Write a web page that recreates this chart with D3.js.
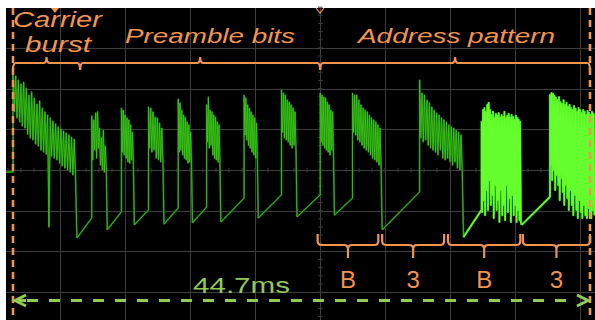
<!DOCTYPE html>
<html>
<head>
<meta charset="utf-8">
<script src="https://cdn.jsdelivr.net/npm/d3@7"></script>
<style>
  html, body { margin: 0; padding: 0; background: #fff; }
  svg { display: block; }
</style>
</head>
<body>
<svg id="scope" width="595" height="320"></svg>
<script>
// burst timing in ms from the carrier start (left cursor)
const burstStart = [0, 6.1, 8.4, 10.5, 12.8, 15.0, 17.9, 20.8, 23.8, 26.3, 31.5, 36.3, 41.6]
const burstEnd   = [4.95, 7.3, 9.4, 11.7, 13.9, 16.1, 19.0, 22.0, 24.9, 28.6, 34.9, 39.4, 45.1]

// level (in divisions) the trace drops to after each burst, and where the ramp ends
const dropLevel = [-1.67, -1.47, -1.35, -1.33, -1.30, -1.28, -1.18, -1.15, -1.11, -1.47, -1.65, -1.35]
const rampEnd   = [-1.18, -1.03, -0.98, -0.93, -0.91, -0.69, -0.61, -0.61, -0.69, -0.54, -0.98, -0.66]

// trace level before the trigger
const idleLevel = -0.05
const idleStart = -0.62

// spike peaks and troughs of every burst, in divisions
const burstTops = [
  [2.33, 2.31, 2.21, 2.11, 2.16, 2.01, 1.84, 1.92, 1.77, 1.62, 1.70, 1.52, 1.43, 1.35, 1.28, 1.20, 1.13, 1.06, 1.01, 0.96, 0.91, 0.86, 0.81, 0.76],
  [1.33, 1.23, 1.40, 1.43, 1.03, 0.79, 0.98, 0.59],
  [1.52, 1.47, 1.35, 1.28, 1.23, 1.11, 0.93],
  [1.55, 1.52, 1.43, 1.30, 1.28, 1.15, 1.03],
  [1.74, 1.65, 1.47, 1.35, 1.30, 1.18, 1.11, 0.93],
  [1.60, 1.79, 1.47, 1.43, 1.35, 1.30, 1.18, 1.11],
  [1.84, 1.77, 1.60, 1.52, 1.43, 1.35, 1.28, 1.15],
  [1.97, 1.89, 1.84, 1.72, 1.67, 1.60, 1.52, 1.43],
  [1.89, 1.84, 1.79, 1.77, 1.67, 1.60, 1.47, 1.43],
  [1.89, 1.84, 1.84, 1.72, 1.60, 1.52, 1.47, 1.43, 1.35, 1.28, 1.23, 1.18, 1.11, 1.03],
  [2.21, 1.89, 1.84, 1.72, 1.65, 1.55, 1.47, 1.40, 1.35, 1.28, 1.23, 1.18, 1.11, 1.06, 1.03, 0.98, 0.93, 0.86],
  [1.18, 1.47, 1.52, 1.43, 1.60, 1.65, 1.47, 1.35, 1.43, 1.28, 1.38, 1.33, 1.40, 1.28, 1.35, 1.30, 1.43, 1.28, 1.33, 1.38, 1.28, 1.35, 1.30, 1.23, 1.33, 1.28, 1.23, 1.18],
  [1.84, 1.89, 1.87, 1.82, 1.77, 1.72, 1.79, 1.67, 1.62, 1.72, 1.60, 1.65, 1.55, 1.60, 1.52, 1.47, 1.57, 1.50, 1.43, 1.52, 1.47, 1.40, 1.47, 1.43, 1.35, 1.45, 1.40, 1.35, 1.43, 1.38]
]
const burstTroughs = [
  [1.43, 1.28, 1.18, 1.08, 1.03, 0.88, 0.79, 0.74, 0.64, 0.59, 0.49, 0.44, 0.39, -1.40, 0.34, 0.29, 0.25, 0.17, 0.10, 0.05, 0.00, -0.05, -0.12, -0.20],
  [0.25, 0.49, 0.29, 0.54, 0.12, 0.00, -0.05, 0.05],
  [0.44, 0.37, 0.29, 0.20, 0.17, 0.25, 0.12],
  [0.54, 0.44, 0.49, 0.29, 0.25, 0.20, 0.20],
  [0.44, 0.49, 0.37, 0.29, 0.25, 0.17, 0.20, 0.12],
  [0.69, 0.54, 0.61, 0.37, 0.29, 0.25, 0.20, 0.20],
  [0.86, 0.74, 0.61, 0.54, 0.44, 0.37, 0.29, 0.29],
  [0.93, 0.79, 0.74, 0.69, 0.61, 0.54, 0.61, 0.49],
  [0.69, 0.61, 0.54, 0.49, 0.44, 0.37, 0.49, 0.37],
  [0.93, 0.86, 0.74, 0.69, 0.61, 0.54, 0.49, 0.44, 0.37, 0.29, 0.25, 0.20, 0.12, 0.05],
  [0.79, 0.69, 0.74, 0.61, 0.54, 0.49, 0.44, 0.37, 0.49, 0.29, 0.25, 0.29, 0.20, 0.12, 0.20, 0.05, 0.00, -0.05],
  [-1.03, -0.74, -1.11, -0.49, -0.98, -0.25, -0.86, -0.61, -1.18, -0.37, -0.98, -0.74, -1.28, -0.49, -1.11, -0.86, -1.23, -0.37, -1.03, -0.69, -1.28, -0.61, -1.11, -0.86, -1.28, -0.98, -1.23, -1.28],
  [0.12, -0.25, 0.00, -0.49, -0.12, -0.37, -0.74, -0.20, -0.54, -0.86, -0.37, -0.69, -0.98, -0.49, -0.86, -1.11, -0.61, -0.98, -1.18, -0.74, -1.03, -1.18, -0.86, -1.11, -1.18, -0.93, -1.13, -1.18, -0.98, -1.11]
]

// annotation spans (ms)
const frameEdges = [0, 5.2, 23.8, 44.7]
const frameLabels = [["Carrier", "burst"], ["Preamble bits"], ["Address pattern"]]
const nibbleStart = [23.6, 28.6, 33.7, 39.5]
const nibbleEnd   = [28.3, 33.4, 39.3, 44.7]
const nibbleLabels = ["B", "3", "B", "3"]
const spanMs = 44.7
const spanLabel = "44.7ms"

const orange = "#f2944c"
const lime = "#8fcb55"
const brightBursts = [11, 12]

const svg = d3.select("#scope")

// screen: 10 x 8 divisions, partly cropped by the window
const xDiv = d3.scaleLinear().domain([-5, 5]).range([-5, 645])
const yDiv = d3.scaleLinear().domain([-4, 4]).range([332.8, 7.2])
const x = d3.scaleLinear().domain([0, spanMs]).range([13, 590])
const y = yDiv

svg.append("rect").attr("x", 6).attr("y", 8).attr("width", 589).attr("height", 312).attr("fill", "#000")

let grid = svg.append("g").attr("stroke", "#3d3d3d").attr("stroke-width", 1)
grid.selectAll("line.v").data(d3.range(-4, 5)).enter().append("line")
    .attr("x1", d => Math.round(xDiv(d)) + 0.5).attr("x2", d => Math.round(xDiv(d)) + 0.5)
    .attr("y1", 8).attr("y2", 320)
grid.selectAll("line.h").data(d3.range(-3, 4)).enter().append("line")
    .attr("y1", d => Math.round(y(d)) + 0.5).attr("y2", d => Math.round(y(d)) + 0.5)
    .attr("x1", 6).attr("x2", 595)

// minor ticks on the centre axes
grid.selectAll("line.tx").data(d3.range(-25, 26).map(d => d / 5)).enter().append("line")
    .attr("x1", d => xDiv(d)).attr("x2", d => xDiv(d))
    .attr("y1", y(0) - 2).attr("y2", y(0) + 2.5)
grid.selectAll("line.ty").data(d3.range(-20, 21).map(d => d / 5)).enter().append("line")
    .attr("y1", d => y(d)).attr("y2", d => y(d))
    .attr("x1", xDiv(0) - 2).attr("x2", xDiv(0) + 2.5)

// build the trace, one piece per burst
let pieces = []
burstStart.forEach((s, k) => {
    let pts = []
    if (k == 0) {
        pts.push([idleStart, idleLevel], [0, idleLevel])
    } else {
        pts.push([burstEnd[k - 1], dropLevel[k - 1]], [s, rampEnd[k - 1]])
    }
    let tops = burstTops[k], lows = burstTroughs[k]
    let step = (burstEnd[k] - s) / tops.length
    tops.forEach((t, i) => {
        pts.push([s + i * step, t])
        pts.push([s + (i + 0.5) * step, lows[i]])
    })
    if (k < dropLevel.length) pts.push([burstEnd[k], dropLevel[k]])
    pieces.push({ pts: pts, bright: brightBursts.indexOf(k) >= 0 })
})

let line = d3.line().x(d => x(d[0])).y(d => y(d[1]))

let clip = svg.append("clipPath").attr("id", "screen")
clip.append("rect").attr("x", 6).attr("y", 8).attr("width", 589).attr("height", 312)

let trace = svg.append("g").attr("clip-path", "url(#screen)").attr("fill", "none").attr("stroke-linejoin", "round")
trace.selectAll("path.under").data(pieces).enter().append("path")
    .attr("d", d => line(d.pts))
    .attr("stroke", d => d.bright ? "#3cd814" : "#17650a")
    .attr("stroke-width", d => d.bright ? 2.2 : 1.8)
trace.selectAll("path.over").data(pieces).enter().append("path")
    .attr("d", d => line(d.pts))
    .attr("stroke", d => d.bright ? "#66ff2e" : "#3ac716")
    .attr("stroke-width", d => d.bright ? 1.2 : 0.85)

// cursors
svg.selectAll("line.cursor").data([0, spanMs]).enter().append("line")
    .attr("x1", d => x(d)).attr("x2", d => x(d))
    .attr("y1", 8).attr("y2", 320)
    .attr("stroke", orange).attr("stroke-width", 2.6)
    .attr("stroke-dasharray", "7,5")

// trigger markers on top edge
svg.append("path").attr("d", "M51,8 L59,8 L55,13 Z").attr("fill", orange)
svg.append("path").attr("d", "M316,8 L320,13 L324,8").attr("fill", "none").attr("stroke", orange).attr("stroke-width", 1.2)

// frame brace on top
let ann = svg.append("g").attr("fill", "none").attr("stroke", orange).attr("stroke-width", 2.2)
let topY = 63
d3.range(frameLabels.length).forEach(i => {
    let x0 = x(frameEdges[i]), x1 = x(frameEdges[i + 1]), xm = (x0 + x1) / 2
    ann.append("path").attr("d",
        `M${x0},${topY + 7} Q${x0},${topY} ${x0 + 3},${topY} L${xm - 3},${topY} Q${xm},${topY} ${xm},${topY - 6} ` +
        `Q${xm},${topY} ${xm + 3},${topY} L${x1 - 3},${topY} Q${x1},${topY} ${x1},${topY + 7}`)
})

let txt = svg.append("g").attr("fill", orange).attr("font-family", "'Liberation Sans', Arial, sans-serif")
    .attr("font-style", "italic")
txt.append("text").attr("x", 13).attr("y", 27).attr("font-size", 22).attr("textLength", 89).attr("lengthAdjust", "spacingAndGlyphs").text(frameLabels[0][0])
txt.append("text").attr("x", 25).attr("y", 52).attr("font-size", 22).attr("textLength", 66).attr("lengthAdjust", "spacingAndGlyphs").text(frameLabels[0][1])
txt.append("text").attr("x", 125).attr("y", 43).attr("font-size", 20).attr("textLength", 170).attr("lengthAdjust", "spacingAndGlyphs").text(frameLabels[1][0])
txt.append("text").attr("x", 358).attr("y", 43).attr("font-size", 20).attr("textLength", 197).attr("lengthAdjust", "spacingAndGlyphs").text(frameLabels[2][0])

// nibble braces below the trace
let bTop = 234, bMid = 245, bTip = 258
nibbleStart.forEach((s, i) => {
    let x0 = x(s), x1 = x(nibbleEnd[i]), xm = (x0 + x1) / 2
    ann.append("path").attr("d",
        `M${x0},${bTop} L${x0},${bMid - 4} Q${x0},${bMid} ${x0 + 4},${bMid} L${xm - 4},${bMid} Q${xm},${bMid} ${xm},${bMid + 4} L${xm},${bTip} ` +
        `M${xm},${bMid + 4} Q${xm},${bMid} ${xm + 4},${bMid} L${x1 - 4},${bMid} Q${x1},${bMid} ${x1},${bMid - 4} L${x1},${bTop}`)
    svg.append("text").attr("x", xm).attr("y", 288)
        .attr("text-anchor", "middle").attr("font-size", 24)
        .attr("font-family", "'Liberation Sans', Arial, sans-serif")
        .attr("fill", orange).text(nibbleLabels[i])
})

// span arrow
let arrowY = 300.5
let ar = svg.append("g").attr("stroke", lime).attr("stroke-width", 3).attr("fill", "none")
ar.append("line").attr("x1", x(0) + 14).attr("x2", x(spanMs) - 14)
    .attr("y1", arrowY).attr("y2", arrowY).attr("stroke-dasharray", "11,11")
ar.append("path").attr("d", `M${x(0) + 13},${arrowY - 5.5} L${x(0) + 2},${arrowY} L${x(0) + 13},${arrowY + 5.5}`)
ar.append("line").attr("x1", x(0) + 2).attr("x2", x(0) + 13).attr("y1", arrowY).attr("y2", arrowY)
ar.append("path").attr("d", `M${x(spanMs) - 13},${arrowY - 5.5} L${x(spanMs) - 2},${arrowY} L${x(spanMs) - 13},${arrowY + 5.5}`)

svg.append("text").attr("x", 193).attr("y", 293).attr("font-size", 22)
    .attr("font-family", "'Liberation Sans', Arial, sans-serif")
    .attr("textLength", 97).attr("lengthAdjust", "spacingAndGlyphs")
    .attr("fill", lime).text(spanLabel)
</script>
</body>
</html>
